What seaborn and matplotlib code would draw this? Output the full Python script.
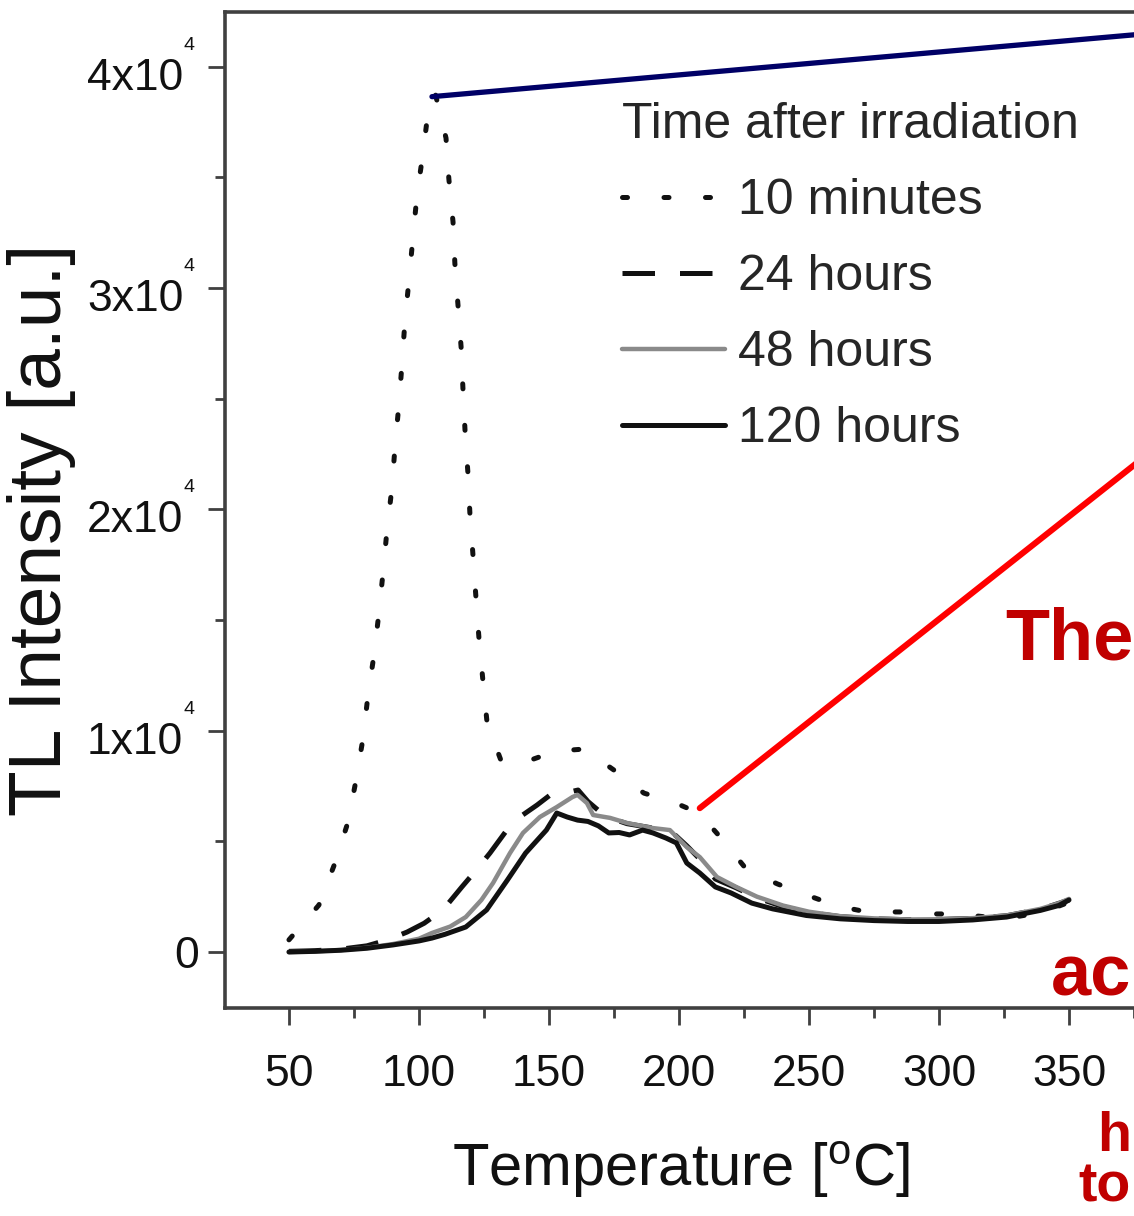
import os
import numpy as np
import pandas as pd
import matplotlib
matplotlib.use("Agg")
import matplotlib.pyplot as plt
import matplotlib.transforms as mtransforms
from matplotlib import font_manager as fm
from matplotlib.ticker import FixedLocator
import seaborn as sns

# ---------------- data ----------------
T_10min = [50, 61.5, 67.7, 72.7, 75.8, 78.5, 80.4, 82.7, 84.6, 86.2, 87.7, 89.6, 90.8, 92.3,
           93.5, 94.6, 96.2, 97.7, 99.2, 101.5, 103.5, 106.2, 110.4, 111.5, 113.1, 113.8,
           115, 116.2, 116.9, 117.7, 118.8, 119.6, 120.8, 121.9, 123.1, 124.6, 126.2, 131.9,
           141.9, 152.7, 163.5, 175, 186.5, 197.7, 207.7, 216.2, 226.2, 238, 249, 260.8,
           272.3, 285, 295.8, 307.3, 320, 330, 340, 350]
I_10min = [550, 2120, 4020, 5870, 7770, 9670, 11610, 13420, 15320, 17170, 19070, 20970, 22860,
           24760, 26620, 28510, 30410, 32310, 34160, 36060, 37960, 38820, 36780, 34930, 32990,
           31130, 29240, 27340, 25490, 23590, 21690, 19790, 17890, 16040, 14140, 12250, 10350,
           8540, 8630, 9080, 9170, 8220, 7180, 6780, 6280, 5150, 3700, 3070, 2580, 2080, 1810,
           1810, 1720, 1720, 1560, 1600, 1800, 2250]

T_24h = [50, 60, 70, 80, 88, 95.4, 102, 109.2, 116.5, 122, 127.3, 133.8, 140, 145.4, 150.4,
         155, 161.2, 165, 170, 175, 180, 190, 197, 203, 208, 214, 222, 230, 240, 250, 262,
         275, 288, 300, 313, 326, 339, 350]
I_24h = [30, 60, 130, 280, 550, 900, 1300, 1900, 2940, 3700, 4470, 5510, 6200, 6640, 7090,
         7150, 7320, 6800, 6300, 6000, 5800, 5600, 5450, 4800, 4200, 3300, 2900, 2450, 2050,
         1780, 1600, 1500, 1460, 1470, 1520, 1640, 1930, 2350]

T_48h = [50, 60, 70, 80, 90, 100, 105, 112, 118, 124, 128.5, 135, 140, 146.5, 153, 159, 161,
         164.6, 167, 173.5, 180, 190, 196.5, 203, 208, 214.6, 222, 230, 240, 250, 262, 275,
         288, 300, 313, 326, 339, 346, 350]
I_48h = [0, 30, 90, 190, 360, 600, 860, 1150, 1580, 2350, 3120, 4470, 5380, 6100, 6550, 7000,
         7100, 6730, 6190, 6060, 5830, 5600, 5510, 4740, 4290, 3390, 2940, 2500, 2100, 1820,
         1620, 1520, 1470, 1480, 1530, 1650, 1950, 2200, 2400]

T_120h = [50, 60, 70, 80, 90, 100, 105, 110, 118, 126, 134, 141, 149, 153, 157, 161, 165, 169,
          173, 177, 181, 186, 190, 195, 199, 203, 208, 214, 220, 228, 236, 249, 262, 275, 288,
          300, 313, 326, 339, 346, 350]
I_120h = [0, 30, 80, 170, 320, 500, 630, 800, 1130, 1900, 3250, 4470, 5510, 6280, 6100, 5960,
          5900, 5700, 5380, 5400, 5290, 5510, 5380, 5150, 4930, 4020, 3570, 2940, 2670, 2210,
          1950, 1650, 1500, 1420, 1380, 1380, 1450, 1580, 1880, 2100, 2350]

series_labels = ["10 minutes", "24 hours", "48 hours", "120 hours"]
legend_title = "Time after irradiation"
x_ticks = [50, 100, 150, 200, 250, 300, 350]
y_ticks = [0, 10000, 20000, 30000, 40000]
y_tick_text = ["0", "1x10", "2x10", "3x10", "4x10"]
y_tick_exp = ["", "4", "4", "4", "4"]
annot_texts = ["The", "ac", "h\nto"]

# ---------------- style ----------------
sns.set_theme(style="ticks")
plt.rcParams["font.family"] = ["Liberation Sans", "DejaVu Sans"]
plt.rcParams["mathtext.fontset"] = "custom"
plt.rcParams["mathtext.rm"] = "Liberation Sans"
plt.rcParams["mathtext.it"] = "Liberation Sans:italic"

narrow_path = None
for f in fm.fontManager.ttflist:
    fn = os.path.basename(f.fname).lower()
    if ("liberationsansnarrow-regular" in fn) or \
       (f.name == "Liberation Sans Narrow" and f.style == "normal" and f.weight in (400, "normal")):
        narrow_path = f.fname
        break
if narrow_path:
    leg_fp = fm.FontProperties(fname=narrow_path, size=40)
    xl_fp = fm.FontProperties(fname=narrow_path, size=50)
else:
    leg_fp = fm.FontProperties(family="Liberation Sans", size=36)
    xl_fp = fm.FontProperties(family="Liberation Sans", size=43)

W, H = 1134, 1216
fig = plt.figure(figsize=(W / 100, H / 100), dpi=100)
fig.patch.set_facecolor("white")
ax = fig.add_axes([225 / W, 208 / H, 948 / W, 996 / H])
ax.set_facecolor("white")

spine_col = "#404040"
black = "#111111"
gray = "#8a8a8a"

def frame(T, I, name):
    return pd.DataFrame({"Temperature": T, "Intensity": I, "series": name})

sns.lineplot(data=frame(T_10min, I_10min, series_labels[0]), x="Temperature", y="Intensity",
             ax=ax, color=black, lw=3.6, linestyle=(0, (1, 7.3)), dash_capstyle="round",
             label=series_labels[0], estimator=None)
sns.lineplot(data=frame(T_24h, I_24h, series_labels[1]), x="Temperature", y="Intensity",
             ax=ax, color=black, lw=3.6, linestyle=(0, (6.5, 5)),
             label=series_labels[1], estimator=None)
sns.lineplot(data=frame(T_48h, I_48h, series_labels[2]), x="Temperature", y="Intensity",
             ax=ax, color=gray, lw=3.2, label=series_labels[2], estimator=None)
sns.lineplot(data=frame(T_120h, I_120h, series_labels[3]), x="Temperature", y="Intensity",
             ax=ax, color=black, lw=3.6, label=series_labels[3], estimator=None)

ax.set_xlim(25.4, 390)
ax.set_ylim(-2530, 42476)

for side in ["top", "left", "right", "bottom"]:
    ax.spines[side].set_color(spine_col)
    ax.spines[side].set_linewidth(2.6)

ax.xaxis.set_major_locator(FixedLocator(x_ticks))
ax.xaxis.set_minor_locator(FixedLocator([75, 125, 175, 225, 275, 325, 375]))
ax.yaxis.set_major_locator(FixedLocator(y_ticks))
ax.yaxis.set_minor_locator(FixedLocator([5000, 15000, 25000, 35000]))
ax.set_xticklabels([str(v) for v in x_ticks])
ax.set_yticklabels(y_tick_text)
ax.tick_params(axis="both", which="major", direction="out", length=12, width=2,
               color=spine_col, labelsize=32, labelcolor="#111111")
ax.tick_params(axis="both", which="minor", direction="out", length=7, width=2, color=spine_col)
ax.tick_params(axis="x", which="major", pad=21)
ax.tick_params(axis="y", which="major", pad=18)

# y tick labels: shift exponent-bearing labels down a little, "0" to the right
for tick, txt in zip(ax.yaxis.get_major_ticks(), y_tick_text):
    lbl = tick.label1
    if txt != "0":
        off = mtransforms.ScaledTranslation(0, -7 / 100, fig.dpi_scale_trans)
    else:
        off = mtransforms.ScaledTranslation(16 / 100, 0, fig.dpi_scale_trans)
    lbl.set_transform(lbl.get_transform() + off)

# superscript exponents
sup_tr = mtransforms.blended_transform_factory(ax.transAxes, ax.transData) + \
    mtransforms.ScaledTranslation(0, 30 / 100, fig.dpi_scale_trans)
for v, e in zip(y_ticks, y_tick_exp):
    if e:
        ax.text(-(225 - 184) / 948, v, e, transform=sup_tr, fontsize=14, ha="left", va="top",
                color="#111111", clip_on=False)

ax.set_xlabel("Temperature [$^{\\mathrm{o}}$C]", fontproperties=xl_fp, color="#111111")
ax.set_ylabel("TL Intensity [a.u.]", fontsize=54, color="#111111")
ax.xaxis.set_label_coords((681 - 225) / 948, -(1140 - 1008) / 996)
ax.yaxis.set_label_coords(-(225 - 76) / 948, (1008 - 530) / 996)

# legend
handles = ax.get_lines()[:4]
leg = ax.legend(handles=handles, labels=series_labels, title=legend_title, loc="upper left",
                bbox_to_anchor=(622 / W, 1 - 102 / H), bbox_transform=fig.transFigure,
                frameon=False, prop=leg_fp, title_fontproperties=leg_fp,
                handlelength=2.05, handletextpad=0.26, labelspacing=0.6,
                borderpad=0, borderaxespad=0, alignment="left")

# annotation lines leading off to the right
ax.annotate("", xy=(105, 38650), xycoords="data",
            xytext=(1200 / W, 1 - 29 / H), textcoords="figure fraction",
            arrowprops=dict(arrowstyle="-", color="#000066", lw=3.8, shrinkA=0, shrinkB=0),
            annotation_clip=False)
ax.annotate("", xy=(208, 6500), xycoords="data",
            xytext=(1200 / W, 1 - 413 / H), textcoords="figure fraction",
            arrowprops=dict(arrowstyle="-", color="#ff0000", lw=4.4, shrinkA=0, shrinkB=0),
            annotation_clip=False)

# red annotation text fragments at the right edge
red = "#c00000"
fig.text(1005 / W, 1 - 660 / H, annot_texts[0], color=red, fontsize=52, fontweight="bold",
         ha="left", va="baseline")
fig.text(1131 / W, 1 - 995 / H, annot_texts[1], color=red, fontsize=52, fontweight="bold",
         ha="right", va="baseline")
fig.text(1131 / W, 1 - 1213 / H, annot_texts[2], color=red, fontsize=40, fontweight="bold",
         ha="right", va="bottom", multialignment="right", linespacing=0.95)

fig.savefig("out.png", dpi=100, facecolor="white")
